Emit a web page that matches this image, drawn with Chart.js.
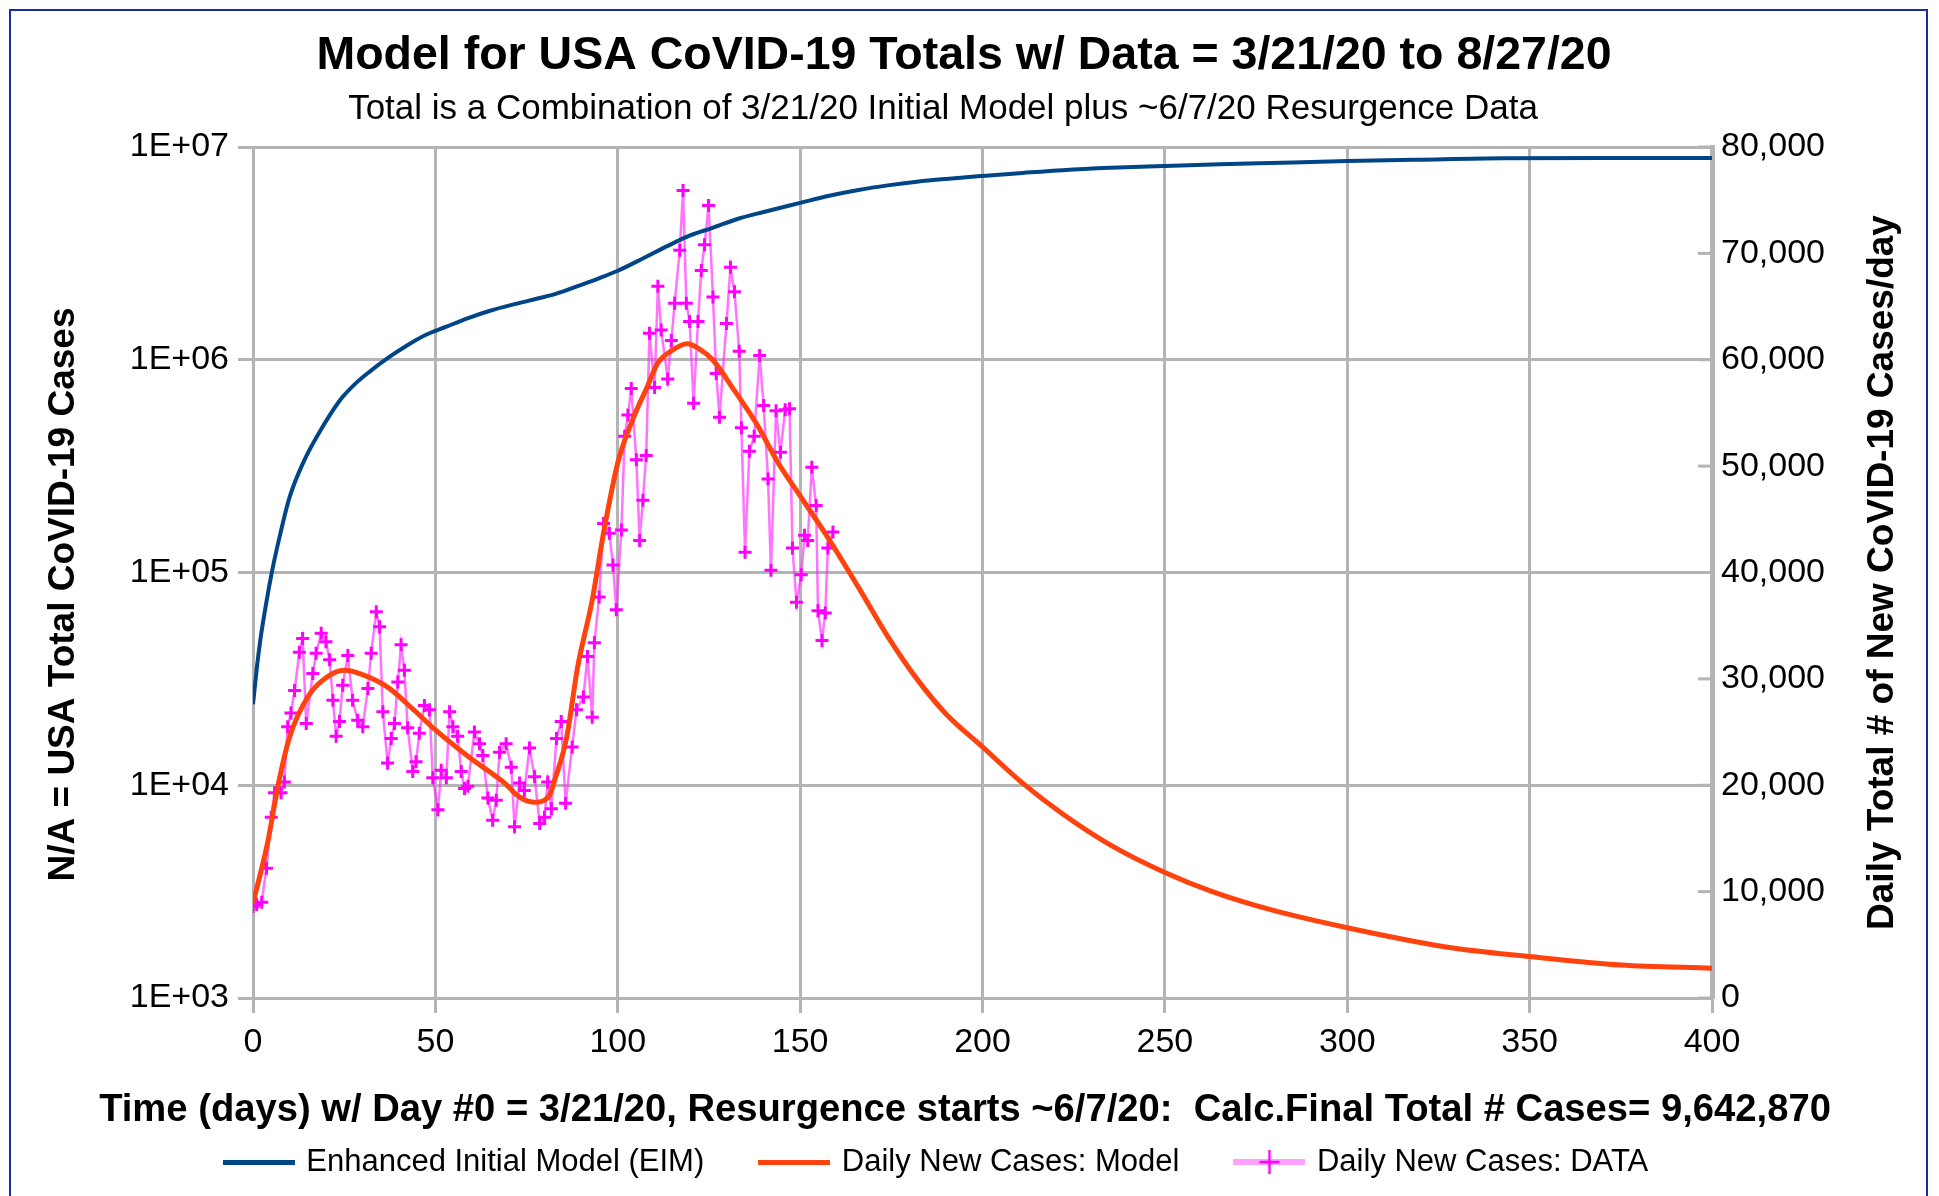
<!DOCTYPE html>
<html>
<head>
<meta charset="utf-8">
<title>Model for USA CoVID-19 Totals</title>
<script src="https://cdn.jsdelivr.net/npm/chart.js@4.4.1/dist/chart.umd.min.js"></script>
<style>
  html, body { margin: 0; padding: 0; background: #fff; }
  #wrap { width: 1939px; height: 1196px; position: relative; }
</style>
</head>
<body>
<div id="wrap"><canvas id="myChart"></canvas></div>
<script>
const fontFamily = '"Liberation Sans", Arial, sans-serif'

const gridColor  = '#b4b4b4'
const frameColor = '#1c2c9a'
const eimColor   = '#004586'
const modelColor = '#ff420e'
const dataColor  = '#ff00ff'

const mainTitle = 'Model for USA CoVID-19 Totals w/ Data = 3/21/20 to 8/27/20'
const subTitle  = 'Total is a Combination of 3/21/20 Initial Model plus ~6/7/20 Resurgence Data'
const xTitle    = 'Time (days) w/ Day #0 = 3/21/20, Resurgence starts ~6/7/20:  Calc.Final Total # Cases= 9,642,870'
const leftTitle  = 'N/A = USA Total CoVID-19 Cases'
const rightTitle = 'Daily Total # of New CoVID-19 Cases/day'

/* tick values */
const dayTicks   = [0, 50, 100, 150, 200, 250, 300, 350, 400]
const totalTicks = [1e3, 1e4, 1e5, 1e6, 1e7]
const dailyTicks = [0, 10000, 20000, 30000, 40000, 50000, 60000, 70000, 80000]

/* blue: Enhanced Initial Model, cumulative total (left, log) */
const eimDays   = [0, 1, 2, 3, 5, 7, 10, 14, 18, 24, 28, 32, 37, 42, 47, 53, 59, 65, 72, 78, 83, 90, 95, 100, 107, 114, 120, 126, 133, 140, 150, 158, 166, 174, 182, 190, 200, 211, 222, 235, 250, 265, 279, 300, 320, 343, 370, 400]
const eimTotals = [24000, 35000, 48000, 62000, 97000, 140000, 225000, 335000, 450000, 650000, 770000, 880000, 1020000, 1160000, 1300000, 1430000, 1570000, 1700000, 1830000, 1940000, 2040000, 2250000, 2420000, 2620000, 3000000, 3450000, 3850000, 4170000, 4600000, 4950000, 5460000, 5900000, 6280000, 6600000, 6870000, 7080000, 7310000, 7550000, 7780000, 7980000, 8150000, 8290000, 8410000, 8590000, 8720000, 8850000, 8870000, 8880000]

/* orange: daily new cases, model (right axis) */
const modelDays  = [0, 4, 7, 10, 15, 20, 25, 30, 37, 44, 50, 59, 69, 73, 77, 81, 83, 86, 89, 93, 96, 100, 104, 108, 111, 115, 119, 122, 126, 132, 138, 144, 150, 157, 166, 174, 182, 190, 200, 211, 222, 235, 250, 263, 279, 300, 327, 350, 375, 400]
const modelCases = [8900, 14600, 20200, 24500, 28300, 30100, 30800, 30400, 29200, 27100, 25200, 22700, 20200, 18900, 18400, 18900, 20800, 24500, 31100, 37400, 43500, 50300, 54300, 57400, 59700, 60900, 61500, 61100, 60000, 57100, 54000, 50300, 47200, 43600, 38600, 34000, 30000, 26700, 23600, 20200, 17300, 14400, 11800, 10000, 8300, 6600, 4800, 3900, 3100, 2800]

/* magenta: daily new cases, data (right axis) */
const dataDays  = [0, 1, 2.4, 3.7, 5, 5.9, 7.7, 8.6, 9.5, 10.4, 11.4, 12.7, 13.6, 14.6, 16.4, 17.3, 18.7, 20, 21, 21.9, 22.8, 23.7, 24.6, 26, 27.3, 28.7, 30.1, 31.5, 32.4, 33.8, 34.7, 35.6, 36.9, 37.9, 38.8, 39.7, 40.6, 41.5, 42.4, 43.8, 44.7, 45.6, 47, 48.4, 49.3, 50.7, 51.6, 53, 53.9, 54.8, 56.1, 57.1, 58, 58.9, 60.7, 62.1, 63, 64.4, 65.7, 66.7, 67.6, 69.4, 70.8, 71.7, 73.1, 74.4, 75.8, 77.2, 78.6, 79.9, 80.8, 81.8, 83.2, 84.5, 85.7, 87.5, 88.7, 90.6, 91.7, 93, 93.6, 94.9, 96.1, 97.7, 98.7, 99.6, 101, 101.9, 102.8, 103.7, 105.1, 106, 106.9, 107.8, 108.7, 110.1, 111, 111.9, 113.7, 114.7, 115.6, 117, 117.9, 118.8, 119.7, 120.8, 122, 122.9, 123.8, 124.9, 126.1, 127, 127.9, 129.8, 130.9, 132, 133.3, 133.9, 134.9, 136.1, 137.4, 138.9, 140, 141.2, 142, 143.4, 144.6, 145.9, 147.1, 147.9, 149, 150.3, 151.2, 152.1, 153.2, 154.4, 154.9, 156, 156.9, 157.6, 159]
const dataCases = [8600, 8800, 9000, 12200, 17000, 19300, 19300, 20300, 25500, 26800, 28900, 32500, 33800, 25800, 30500, 32400, 34300, 33500, 31800, 28000, 24600, 26000, 29400, 32200, 28000, 26100, 25500, 29100, 32400, 36300, 34900, 26900, 22100, 24400, 25800, 29700, 33200, 30800, 25400, 21300, 22200, 24900, 27500, 27100, 20700, 17700, 21400, 20700, 26900, 25500, 24600, 21300, 19700, 19900, 25000, 23900, 22800, 18800, 16700, 18600, 23100, 23900, 21700, 16100, 20200, 19500, 23500, 20800, 16400, 17000, 20300, 17800, 24400, 26000, 18300, 23600, 27100, 28300, 32100, 26400, 33400, 37700, 44600, 43700, 40700, 36500, 44000, 52800, 54800, 57300, 50600, 43000, 46800, 51000, 62500, 57400, 66900, 62800, 58200, 61800, 65300, 70300, 75900, 65300, 63600, 55900, 63600, 68400, 70800, 74500, 65900, 58700, 54600, 63400, 68700, 66400, 60800, 53600, 41900, 51400, 52800, 60400, 55700, 48800, 40200, 55200, 51300, 55300, 55400, 42300, 37200, 39800, 43500, 43000, 49900, 46300, 36400, 33600, 36200, 42300, 43800]

const toPoints = (xs, ys) => xs.map((x, i) => ({ x: x, y: ys[i] }))

/* small legend swatches */
const makeSwatch = (draw) => {
	const c = document.createElement('canvas')
	c.width = 72
	c.height = 26
	draw(c.getContext('2d'))
	return c
}
const legendSwatches = [
	makeSwatch(g => { g.fillStyle = eimColor; g.fillRect(0, 11, 72, 5) }),
	makeSwatch(g => { g.fillStyle = modelColor; g.fillRect(0, 11, 72, 5) }),
	makeSwatch(g => {
		g.fillStyle = 'rgba(255,80,255,0.55)'; g.fillRect(0, 10, 72, 6)
		g.strokeStyle = dataColor; g.lineWidth = 2.5
		g.beginPath(); g.moveTo(26, 13); g.lineTo(46, 13); g.moveTo(36, 1); g.lineTo(36, 25); g.stroke()
	})
]

/* white page with the blue frame */
const pageFrame = {
	id: 'pageFrame',
	beforeDraw(chart) {
		const { ctx, width, height } = chart
		ctx.save()
		ctx.fillStyle = '#fff'
		ctx.fillRect(0, 0, width, height)
		ctx.strokeStyle = frameColor
		ctx.lineWidth = 2
		ctx.strokeRect(10, 10, 1917, height + 20)
		ctx.restore()
	}
}

/* short inward tick marks on the right axis */
const rightInnerTicks = {
	id: 'rightInnerTicks',
	beforeDatasetsDraw(chart) {
		const { ctx, chartArea, scales } = chart
		ctx.save()
		ctx.strokeStyle = gridColor
		ctx.lineWidth = 3
		for (const v of dailyTicks) {
			const y = scales.yR.getPixelForValue(v)
			ctx.beginPath()
			ctx.moveTo(chartArea.right - 14, y)
			ctx.lineTo(chartArea.right, y)
			ctx.stroke()
		}
		ctx.restore()
	}
}

/* centred text, optionally rotated */
const drawText = (ctx, text, x, y, font, angle) => {
	ctx.save()
	ctx.font = font
	ctx.fillStyle = 'black'
	ctx.textAlign = 'center'
	ctx.textBaseline = 'middle'
	ctx.translate(x, y)
	if (angle) ctx.rotate(angle)
	ctx.fillText(text, 0, 0)
	ctx.restore()
}

const chartTexts = {
	id: 'chartTexts',
	afterDraw(chart) {
		const { ctx, chartArea } = chart
		const midY = (chartArea.top + chartArea.bottom) / 2
		drawText(ctx, mainTitle, 964, 56, 'bold 46.5px ' + fontFamily, 0)
		drawText(ctx, subTitle, 943, 109, '35px ' + fontFamily, 0)
		drawText(ctx, xTitle, 965, 1110, 'bold 38.2px ' + fontFamily, 0)
		drawText(ctx, leftTitle, 64, midY + 22, 'bold 37px ' + fontFamily, -Math.PI / 2)
		drawText(ctx, rightTitle, chartArea.right + 171, midY, 'bold 37px ' + fontFamily, -Math.PI / 2)
	}
}

const ctx = document.getElementById('myChart').getContext('2d')
const chart = new Chart(ctx, {
	type: 'line',
	data: {
		datasets: [{
			label: 'Enhanced Initial Model (EIM)',
			data: toPoints(eimDays, eimTotals),
			yAxisID: 'yL',
			borderColor: eimColor,
			borderWidth: 4,
			pointRadius: 0,
			cubicInterpolationMode: 'monotone'
		}, {
			label: 'Daily New Cases: Model',
			data: toPoints(modelDays, modelCases),
			yAxisID: 'yR',
			borderColor: modelColor,
			borderWidth: 5,
			pointRadius: 0,
			cubicInterpolationMode: 'monotone'
		}, {
			label: 'Daily New Cases: DATA',
			data: toPoints(dataDays, dataCases),
			yAxisID: 'yR',
			borderColor: 'rgba(255,40,255,0.65)',
			borderWidth: 2.5,
			pointStyle: 'cross',
			pointRadius: 6.5,
			pointBorderColor: dataColor,
			pointBorderWidth: 3,
			tension: 0
		}]
	},
	options: {
		responsive: true,
		maintainAspectRatio: false,
		animation: false,
		layout: { padding: { left: 10, right: 74, top: 147, bottom: 8.5 } },
		scales: {
			x: {
				type: 'linear',
				min: 0,
				max: 400,
				afterBuildTicks: s => { s.ticks = dayTicks.map(v => ({ value: v })) },
				afterFit: s => { s.height = 90.5 },
				grid: { color: gridColor, lineWidth: 3, tickLength: 15 },
				border: { color: gridColor, width: 3 },
				ticks: { color: 'black', font: { family: fontFamily, size: 34 }, padding: 9.6, maxRotation: 0, autoSkip: false }
			},
			yL: {
				type: 'logarithmic',
				position: 'left',
				min: 1e3,
				max: 1e7,
				afterBuildTicks: s => { s.ticks = totalTicks.map(v => ({ value: v, major: true })) },
				afterFit: s => { s.width = 243 },
				grid: { color: gridColor, lineWidth: 3, tickLength: 15 },
				border: { color: gridColor, width: 3 },
				ticks: {
					color: 'black',
					font: { family: fontFamily, size: 34 },
					padding: 9,
					callback: v => '1E+' + String(Math.round(Math.log10(v))).padStart(2, '0')
				}
			},
			yR: {
				type: 'linear',
				position: 'right',
				min: 0,
				max: 80000,
				afterBuildTicks: s => { s.ticks = dailyTicks.map(v => ({ value: v })) },
				afterFit: s => { s.width = 153 },
				grid: { drawOnChartArea: false, drawTicks: false },
				border: { color: gridColor, width: 5 },
				ticks: {
					color: 'black',
					font: { family: fontFamily, size: 34 },
					padding: 9,
					callback: v => v.toLocaleString('en-US')
				}
			}
		},
		plugins: {
			title: { display: false },
			legend: {
				position: 'bottom',
				labels: {
					usePointStyle: true,
					pointStyleWidth: 64,
					padding: 58,
					color: 'black',
					font: { family: fontFamily, size: 31 },
					generateLabels: c => Chart.defaults.plugins.legend.labels.generateLabels(c)
						.map((item, i) => Object.assign(item, { pointStyle: legendSwatches[i] }))
				}
			},
			tooltip: { enabled: false }
		}
	},
	plugins: [pageFrame, rightInnerTicks, chartTexts]
})
</script>
</body>
</html>
